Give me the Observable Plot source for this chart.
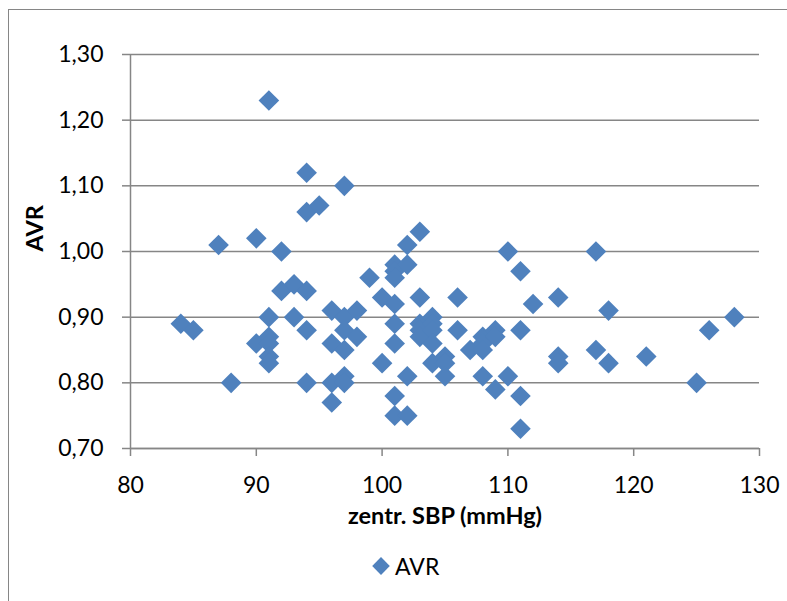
<!DOCTYPE html>
<html>
<head>
<meta charset="utf-8">
<script src="https://cdn.jsdelivr.net/npm/d3@7"></script>
<script src="https://cdn.jsdelivr.net/npm/@observablehq/plot@0.6"></script>
<style>
  html, body { margin: 0; padding: 0; background: #fff; overflow: hidden; }
  body { width: 787px; height: 601px; position: relative; font-family: Lato, "Open Sans", sans-serif; }
  #frame { position: absolute; left: 8px; top: 9px; width: 900px; height: 700px;
           border-left: 1.5px solid #868686; border-top: 1.5px solid #868686; box-sizing: border-box; }
  #chart { position: absolute; left: 0; top: 0; }
  #legend { position: absolute; left: 372px; top: 552px; display: flex; align-items: center; font-size: 23px; color: #000; }
  #legend svg { margin-right: 5px; }
</style>
</head>
<body>
<div id="frame"></div>
<div id="chart"></div>
<div id="legend"></div>
<script>
// zentr. SBP (mmHg)
const sbp = [84, 85, 87, 88, 90, 90, 91, 91, 91, 91, 91, 91, 92, 92, 93, 93, 94, 94, 94, 94, 94, 95,
  96, 96, 96, 96, 97, 97, 97, 97, 97, 97, 98, 98, 99, 100, 100, 101, 101, 101, 101, 101, 101, 101, 101,
  102, 102, 102, 102, 103, 103, 103, 103, 103, 104, 104, 104, 104, 104, 105, 105, 105, 106, 106, 107,
  108, 108, 108, 108, 109, 109, 109, 110, 110, 111, 111, 111, 111, 112, 114, 114, 114, 117, 117, 118, 118,
  121, 125, 126, 128];
// AVR
const avr = [0.89, 0.88, 1.01, 0.80, 1.02, 0.86, 1.23, 0.90, 0.87, 0.86, 0.84, 0.83, 1.00, 0.94, 0.95, 0.90,
  1.12, 1.06, 0.94, 0.88, 0.80, 1.07,
  0.91, 0.86, 0.80, 0.77, 1.10, 0.90, 0.88, 0.85, 0.81, 0.80, 0.91, 0.87, 0.96, 0.93, 0.83,
  0.98, 0.97, 0.96, 0.92, 0.89, 0.86, 0.78, 0.75,
  1.01, 0.98, 0.81, 0.75, 1.03, 0.93, 0.89, 0.88, 0.87, 0.90, 0.89, 0.88, 0.86, 0.83, 0.84, 0.83, 0.81,
  0.93, 0.88, 0.85,
  0.87, 0.86, 0.85, 0.81, 0.88, 0.87, 0.79, 1.00, 0.81, 0.97, 0.88, 0.78, 0.73, 0.92, 0.93, 0.84, 0.83,
  1.00, 0.85, 0.91, 0.83,
  0.84, 0.80, 0.88, 0.90];
const xTicks = [80, 90, 100, 110, 120, 130];
const yTicks = [0.70, 0.80, 0.90, 1.00, 1.10, 1.20, 1.30];
const seriesName = "AVR";
const xTitle = "zentr. SBP (mmHg)";
const yTitle = "AVR";

const data = sbp.map((x, i) => ({x, y: avr[i]}));

const diamond = {
  draw(context, size) {
    const h = Math.sqrt(size / Math.PI);
    context.moveTo(0, -h);
    context.lineTo(h, 0);
    context.lineTo(0, h);
    context.lineTo(-h, 0);
    context.closePath();
  }
};

const blue = "#4F81BD";
const grey = "#868686";
const fmt = d => d.toFixed(2).replace(".", ",");

const chart = Plot.plot({
  width: 787,
  height: 540,
  marginLeft: 130,
  marginRight: 28,
  marginTop: 54,
  marginBottom: 92,
  style: {fontFamily: "Lato, 'Open Sans', sans-serif", fontSize: "23px", color: "#000", background: "transparent", overflow: "visible"},
  x: {domain: [80, 130]},
  y: {domain: [0.70, 1.30]},
  marks: [
    Plot.gridY(yTicks, {stroke: grey, strokeOpacity: 1, strokeWidth: 1.5}),
    Plot.ruleX([80], {stroke: grey, strokeWidth: 1.5}),
    Plot.ruleY([0.70], {stroke: grey, strokeWidth: 1.5}),
    Plot.axisX(xTicks, {tickSize: 8, tickPadding: 20, stroke: grey, strokeWidth: 1.5, fill: "#000", fontSize: 23, label: null}),
    Plot.axisY(yTicks, {tickSize: 8, tickPadding: 19, stroke: grey, strokeWidth: 1.5, fill: "#000", fontSize: 23, tickFormat: fmt, label: null}),
    Plot.text([xTitle], {frameAnchor: "bottom", dy: 75, fontWeight: "bold", fontSize: 23.5, fill: "#000"}),
    Plot.text([yTitle], {frameAnchor: "left", dx: -95, rotate: -90, fontWeight: "bold", fontSize: 23.5, fill: "#000"}),
    Plot.dot(data, {x: "x", y: "y", symbol: diamond, r: 10.3, fill: blue, stroke: "none"})
  ]
});
document.getElementById("chart").appendChild(chart);

const legend = document.getElementById("legend");
legend.innerHTML = `<svg width="18" height="20" viewBox="-9 -10 18 20"><path d="M0,-9L8.8,0L0,9L-8.8,0Z" fill="${blue}"/></svg><span>${seriesName}</span>`;
</script>
</body>
</html>
